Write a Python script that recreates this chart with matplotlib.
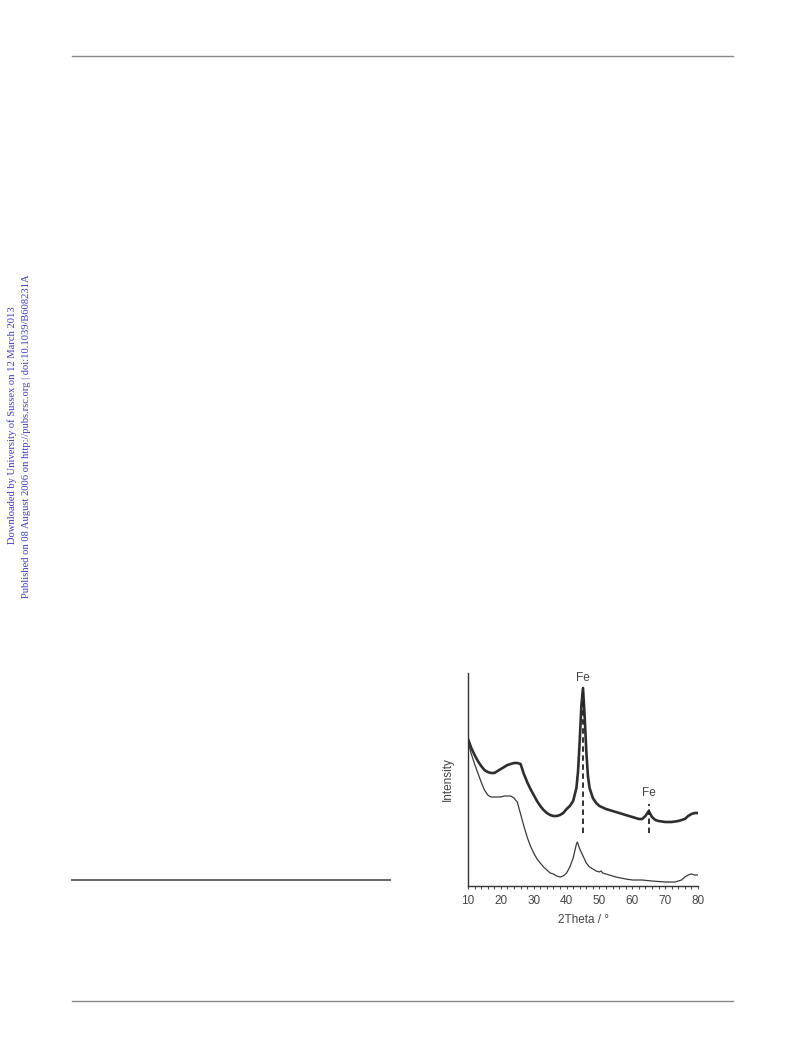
import numpy as np
import matplotlib
matplotlib.use("Agg")
import matplotlib.pyplot as plt
from matplotlib.lines import Line2D

# XRD data (intensity in arbitrary units)
theta_top = [10, 11, 12, 13, 14, 15, 16, 17, 18, 19, 20, 21, 22, 23, 24, 25, 26,
             27, 28, 29, 30, 31, 32, 33, 34, 35, 36, 37, 38, 39, 40, 41, 42, 43,
             43.5, 44, 44.5, 45, 45.5, 46, 46.5, 47, 48, 49, 50, 52, 54, 56, 58,
             60, 62, 63, 64, 65, 66, 67, 68, 70, 72, 74, 76, 77, 78, 79, 80]
int_top = [147, 138, 131, 125, 120, 116, 114, 113, 113, 115, 117, 119, 121, 122,
           123, 123, 122, 112, 104, 97, 91, 85, 80, 76, 73, 71, 70, 70, 71, 73,
           77, 80, 85, 98, 115, 145, 180, 198, 170, 135, 110, 98, 88, 83, 80, 77,
           75, 73, 71, 69, 67, 67, 70, 75, 69, 66, 65, 64, 64, 65, 67, 70, 72, 73,
           73]

theta_bot = [10, 11, 12, 13, 14, 15, 16, 17, 18, 19, 20, 21, 22, 23, 24, 25, 26,
             27, 28, 29, 30, 31, 32, 33, 34, 35, 36, 37, 38, 39, 40, 41, 42, 42.5,
             43, 43.3, 44, 45, 46, 47, 48, 49, 50, 50.5, 51, 53, 55, 58, 60, 63,
             66, 70, 73, 75, 76, 77, 78, 79, 80]
int_bot = [144, 132, 122, 113, 104, 96, 91, 89, 89, 89, 89, 90, 90, 90, 88, 84,
           72, 60, 49, 40, 33, 27, 23, 19, 16, 13, 12, 10, 9, 10, 13, 19, 28, 35,
           42, 44, 37, 30, 23, 19, 17, 15, 14, 15, 13, 11, 9, 7, 6, 6, 5, 4, 4, 6,
           9, 11, 12, 11, 11]

# Fe reflections: position, dashed line span, label height
fe_pos = [45, 65]
fe_low = [53, 53]
fe_high = [198, 82]
fe_label_y = [208, 93]

W, H = 793, 1039
fig = plt.figure(figsize=(W / 100, H / 100), dpi=100)

# page decoration
for y, x0, x1, c, lw in [(56, 72, 733, "#888888", 1.0),
                         (1001, 72, 733, "#888888", 1.0),
                         (880, 72, 390, "#666666", 1.4)]:
    fig.add_artist(Line2D([x0 / W, x1 / W], [1 - y / H, 1 - y / H],
                          color=c, lw=lw, transform=fig.transFigure))

blue = "#3a3acc"
fig.text(12 / W, 1 - 425 / H, "Downloaded by University of Sussex on 12 March 2013",
         rotation=90, ha="center", va="center", color=blue,
         family="Liberation Serif", fontsize=7.6)
fig.text(27 / W, 1 - 436 / H,
         "Published on 08 August 2006 on http://pubs.rsc.org | doi:10.1039/B608231A",
         rotation=90, ha="center", va="center", color=blue,
         family="Liberation Serif", fontsize=7.6)

# chart
ax = fig.add_axes([468 / W, 1 - 886 / H, 230 / W, 213 / H])
ax.plot(theta_top, int_top, color="#2e2e2e", lw=1.9)
ax.plot(theta_bot, int_bot, color="#3a3a3a", lw=0.9)
for xp, lo, hi, ly in zip(fe_pos, fe_low, fe_high, fe_label_y):
    ax.vlines(xp, lo, hi, colors="#222222", linestyles=(0, (3, 2)), lw=1.3)
    ax.text(xp, ly, "Fe", ha="center", va="center", fontsize=8.5,
            color="#444444", family="Liberation Sans")

ax.set_xlim(10, 80)
ax.set_ylim(0, 213)
for s in ["top", "right"]:
    ax.spines[s].set_visible(False)
for s in ["left", "bottom"]:
    ax.spines[s].set_color("#333333")
    ax.spines[s].set_linewidth(1.0)
ax.set_yticks([])
ax.set_xticks(np.arange(10, 81, 10))
ax.set_xticks(np.arange(10, 81, 2), minor=True)
ax.tick_params(axis="x", which="both", direction="out", length=2.5, width=0.8,
               color="#555555", labelsize=8.5, labelcolor="#444444", pad=4)
for lab in ax.get_xticklabels():
    lab.set_family("Liberation Sans")
ax.set_xlabel("2Theta / °", fontsize=8.5, color="#444444",
              family="Liberation Sans", labelpad=5)
ax.set_ylabel("Intensity", fontsize=8.5, color="#444444",
              family="Liberation Sans", labelpad=10)

fig.savefig("out.png", dpi=100)
